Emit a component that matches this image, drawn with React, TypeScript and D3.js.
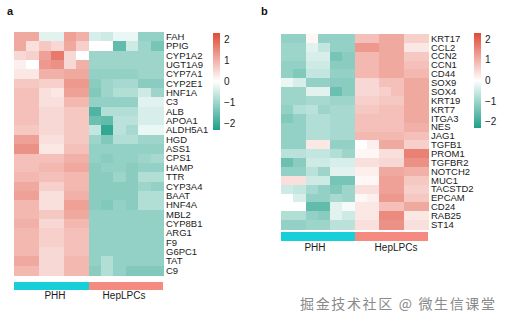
import React from "react";
import * as d3 from "d3";

const genesA = ["FAH","PPIG","CYP1A2","UGT1A9","CYP7A1","CYP2E1","HNF1A","C3","ALB","APOA1","ALDH5A1","HGD","ASS1","CPS1","HAMP","TTR","CYP3A4","BAAT","HNF4A","MBL2","CYP8B1","ARG1","F9","G6PC1","TAT","C9"];
const valuesA = [
  [1.1,1.1,-0.3,-0.3,1.2,1.0,-0.4,-0.5,-0.2,-0.2,-1.1,-1.1],
  [1.1,0.4,0.7,0.5,1.1,0.6,0.0,0.0,-1.6,-0.5,-1.0,-1.4],
  [0.5,0.6,1.2,1.7,0.5,0.0,-1.0,-1.0,-1.0,-1.0,-1.0,-1.0],
  [0.2,0.0,1.3,1.4,0.5,1.0,-1.0,-1.0,-1.0,-1.0,-1.0,-1.0],
  [0.3,0.3,1.0,1.0,1.1,1.1,-1.1,-1.1,-1.1,-1.1,-1.0,-1.0],
  [0.7,0.7,0.6,0.6,1.3,1.3,-1.2,-1.0,-0.9,-0.9,-1.2,-1.2],
  [0.8,0.8,0.4,0.3,1.2,1.2,-1.3,-1.0,-0.8,-0.8,-0.5,-1.0],
  [0.8,0.8,0.4,0.4,0.9,0.9,-1.1,-1.1,-1.1,-1.1,-0.3,-0.3],
  [0.8,0.8,0.5,0.5,0.7,0.7,-1.8,-0.8,-0.8,-0.8,-0.4,-0.4],
  [0.8,0.8,0.5,0.5,0.7,0.7,-1.5,-1.6,-0.7,-0.7,-0.4,-0.4],
  [0.7,0.7,0.5,0.5,0.7,0.7,-0.6,-2.1,-0.7,-0.9,-0.2,-0.2],
  [1.2,1.2,0.4,0.4,0.7,0.7,-1.0,-1.3,-0.8,-0.8,-1.0,-1.0],
  [1.4,1.4,0.3,0.3,0.8,0.8,-1.1,-1.1,-1.1,-1.1,-1.1,-1.1],
  [0.8,0.8,0.8,0.8,1.0,1.0,-1.1,-1.2,-1.1,-1.1,-1.0,-0.9],
  [0.8,0.8,0.9,0.9,1.1,1.1,-1.2,-1.1,-1.1,-1.2,-1.1,-1.1],
  [0.9,0.9,0.8,0.8,0.9,0.9,-1.2,-1.2,-1.0,-1.2,-0.8,-0.8],
  [1.1,1.1,0.6,0.6,0.9,0.9,-1.2,-1.2,-1.2,-1.2,-1.0,-1.1],
  [1.2,1.2,0.4,0.4,1.0,1.0,-1.2,-1.2,-1.2,-1.2,-0.8,-0.8],
  [0.9,0.9,0.4,0.4,1.2,1.2,-1.2,-1.3,-1.1,-1.2,-0.8,-0.8],
  [0.9,0.9,0.7,0.7,1.1,1.1,-1.1,-1.1,-1.1,-1.1,-1.1,-1.1],
  [1.0,1.0,0.5,0.5,0.9,0.9,-1.1,-1.1,-1.1,-1.1,-1.1,-1.1],
  [0.9,0.9,0.6,0.6,0.8,0.8,-1.1,-1.1,-1.1,-1.1,-1.1,-1.1],
  [0.9,0.9,0.6,0.6,0.8,0.8,-1.1,-1.1,-1.1,-1.1,-1.1,-1.1],
  [0.9,0.9,0.5,0.5,0.8,0.8,-1.1,-1.1,-1.1,-1.1,-1.1,-1.1],
  [1.1,1.1,0.5,0.5,0.9,0.9,-1.1,-0.8,-1.1,-1.1,-1.1,-1.1],
  [0.9,0.9,0.5,0.5,0.9,0.9,-1.2,-0.8,-1.1,-1.3,-1.3,-1.3],
];

const genesB = ["KRT17","CCL2","CCN2","CCN1","CD44","SOX9","SOX4","KRT19","KRT7","ITGA3","NES","JAG1","TGFB1","PROM1","TGFBR2","NOTCH2","MUC1","TACSTD2","EPCAM","CD24","RAB25","ST14"];
const valuesB = [
  [-1.1,-1.1,0.1,-1.1,-1.1,-1.1,0.8,0.8,1.1,1.1,0.6,0.6],
  [-1.0,-1.0,-0.3,-0.6,-1.1,-1.1,1.3,1.3,1.1,1.1,0.3,0.3],
  [-1.0,-1.0,-0.4,-0.4,-1.4,-1.2,0.9,0.9,1.1,1.1,0.7,0.7],
  [-1.1,-1.1,-0.5,-0.5,-1.2,-1.2,0.9,0.9,1.1,1.1,0.8,0.8],
  [-1.1,-1.3,-0.6,-0.6,-1.1,-1.1,0.9,0.9,1.1,1.1,0.9,0.9],
  [-0.2,-0.4,-1.1,-1.1,-1.2,-1.2,0.5,0.5,0.8,0.8,1.1,1.1],
  [-1.0,-1.0,-0.3,-0.3,-1.5,-1.2,0.5,0.5,0.6,0.8,1.1,1.1],
  [-1.0,-1.0,-0.9,-0.9,-1.0,-1.0,0.6,0.6,0.7,0.7,1.1,1.1],
  [-1.1,-0.8,-0.7,-1.0,-0.9,-0.9,0.7,0.7,0.8,0.8,1.1,1.1],
  [-1.3,-1.1,-0.8,-0.8,-0.9,-0.9,0.8,0.8,0.8,0.8,1.1,1.1],
  [-1.1,-1.1,-0.8,-0.8,-0.9,-0.9,0.8,0.8,0.8,0.8,1.0,1.0],
  [-1.1,-1.1,-0.8,-0.8,-0.9,-0.9,0.9,0.9,0.9,0.9,0.8,0.8],
  [-1.1,-1.1,0.3,0.3,-1.1,-1.1,0.0,0.2,1.1,1.1,0.6,0.6],
  [-0.7,-0.7,-0.6,-0.6,-0.8,-1.0,0.1,0.1,0.4,0.4,1.6,1.6],
  [-1.5,-1.2,-0.5,-0.5,-0.4,-0.4,0.4,0.4,0.5,0.5,1.4,1.4],
  [-1.1,-1.1,-0.7,-1.0,-0.3,-0.3,0.2,0.2,1.1,1.1,1.0,1.0],
  [0.4,0.4,-0.5,-0.5,-1.4,-1.4,0.1,0.1,1.2,1.2,0.7,0.7],
  [-0.5,-0.6,-0.9,-1.1,-1.3,-1.0,0.4,0.4,1.2,1.2,0.6,0.6],
  [0.0,-0.4,-1.1,-1.1,-0.9,-1.0,0.1,0.2,1.3,1.3,0.7,0.7],
  [0.0,0.0,-1.6,-1.6,-0.3,-0.1,0.3,0.3,0.8,0.8,1.1,1.1],
  [-0.8,-0.8,-1.1,-1.2,-0.3,-0.5,0.3,0.3,1.5,1.5,0.3,0.3],
  [-1.1,-1.1,-1.0,-1.0,-0.7,-0.7,0.4,0.4,1.4,1.4,0.4,0.4],
];

const groups = ["PHH","HepLPCs"];
const groupColors = ["#16cfd8","#f58a80"];
const legendTicks = [2,1,0,-1,-2];
const watermark = "掘金技术社区 @ 微生信课堂";

const color = d3.scaleLinear<string>()
  .domain([-2.3, 0, 2.3])
  .range(["#1e9f87", "#ffffff", "#e04b37"])
  .interpolate(d3.interpolateRgb)
  .clamp(true);

const FONT = "Arial, 'Liberation Sans', sans-serif";

type HMProps = {
  genes: string[]; values: number[][]; x0: number; x1: number; y0: number; y1: number;
  annY0: number; annY1: number; labY: number; labX: number[];
  legX: number; legY0: number; legY1: number; title: string; titleX: number; gid: string;
};

function Heatmap(p: HMProps) {
  const nCol = p.values[0].length;
  const cols = d3.range(nCol);
  const xs = d3.scaleBand<number>().domain(cols).range([p.x0, p.x1]);
  const ys = d3.scaleBand<string>().domain(p.genes).range([p.y0, p.y1]);
  const gx = d3.scaleBand<string>().domain(groups).range([p.x0, p.x1]);
  const leg = d3.scaleLinear().domain([-2.3, 2.3]).range([p.legY1, p.legY0]);
  const stops = d3.range(0, 11).map(i => -2.3 + (4.6 * i) / 10);
  return (
    <g>
      <text x={p.titleX} y={15} fontFamily={FONT} fontWeight="bold" fontSize={11} fill="#111">{p.title}</text>
      <g shapeRendering="crispEdges">
        {p.values.map((row, ri) =>
          row.map((v, ci) => (
            <rect key={ri + "-" + ci} x={xs(ci)} y={ys(p.genes[ri])}
              width={xs.bandwidth() + 0.5} height={ys.bandwidth() + 0.5} fill={color(v)} />
          ))
        )}
        {groups.map((g, i) => (
          <rect key={g} x={gx(g)} y={p.annY0} width={gx.bandwidth()} height={p.annY1 - p.annY0} fill={groupColors[i]} />
        ))}
      </g>
      {p.genes.map(g => (
        <text key={g} x={p.x1 + 3} y={(ys(g) as number) + ys.bandwidth() / 2} dy="0.35em"
          fontFamily={FONT} fontSize={9.5} fill="#1a1a1a">{g}</text>
      ))}
      {groups.map((g, i) => (
        <text key={g} x={p.labX[i]} y={p.labY} textAnchor="middle" fontFamily={FONT} fontSize={10} fill="#1a1a1a">{g}</text>
      ))}
      <defs>
        <linearGradient id={p.gid} x1="0" y1="1" x2="0" y2="0">
          {stops.map((s, i) => (
            <stop key={i} offset={`${(i / 10) * 100}%`} stopColor={color(s)} />
          ))}
        </linearGradient>
      </defs>
      <rect x={p.legX} y={p.legY0} width={7} height={p.legY1 - p.legY0} fill={`url(#${p.gid})`} />
      {legendTicks.map(t => (
        <text key={t} x={p.legX + 11} y={leg(t)} dy="0.35em" fontFamily={FONT} fontSize={10} fill="#1a1a1a">
          {t < 0 ? "\u2212" + Math.abs(t) : String(t)}
        </text>
      ))}
    </g>
  );
}

export default function App() {
  return (
    <svg width={508} height={326} style={{ position: "absolute", left: 0, top: 0, background: "#fff" }}>
      <rect width={508} height={326} fill="#fff" />
      <Heatmap genes={genesA} values={valuesA} x0={14} x1={163} y0={32} y1={275}
        annY0={282} annY1={290} labY={299} labX={[55, 124]}
        legX={213} legY0={33} legY1={130} title="a" titleX={7} gid="gA" />
      <Heatmap genes={genesB} values={valuesB} x0={281} x1={428} y0={34} y1={229}
        annY0={232} annY1={241} labY={251} labX={[315, 396]}
        legX={474} legY0={33} legY1={128} title="b" titleX={261} gid="gB" />
      <text x={300} y={309} fontFamily="'Noto Sans CJK SC', sans-serif" fontSize={14}
        textLength={195} lengthAdjust="spacing" fill="#8a8a8a">{watermark}</text>
    </svg>
  );
}
